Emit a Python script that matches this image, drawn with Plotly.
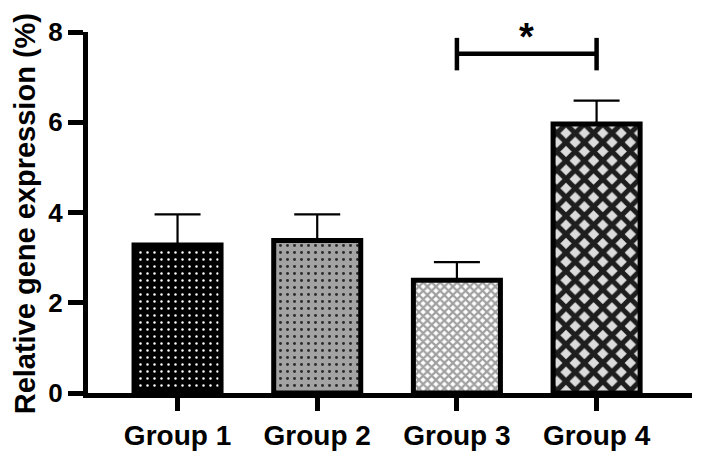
import plotly.graph_objects as go

categories = ["Group 1", "Group 2", "Group 3", "Group 4"]
means = [3.28, 3.38, 2.50, 5.96]
sem_up = [0.68, 0.58, 0.40, 0.52]
bg_colors = ["#000000", "#a3a3a3", "#ffffff", "#dcdcdc"]
fg_colors = ["#ffffff", "#2a2a2a", "#a0a0a0", "#1e1e1e"]
pattern_shapes = [".", ".", "x", "x"]
pattern_sizes = [7, 7, 6, 13]
pattern_solidity = [0.1, 0.14, 0.6, 0.62]
y_ticks = [0, 2, 4, 6, 8]
sig_pair = (2, 3)
sig_label = "*"

FONT = "Liberation Sans, Arial, sans-serif"

fig = go.Figure()
for i, cat in enumerate(categories):
    fig.add_trace(go.Bar(
        x=[i],
        y=[means[i]],
        width=0.623,
        name=cat,
        marker=dict(
            color=bg_colors[i],
            line=dict(color="black", width=5),
            pattern=dict(
                shape=pattern_shapes[i],
                bgcolor=bg_colors[i],
                fgcolor=fg_colors[i],
                size=pattern_sizes[i],
                solidity=pattern_solidity[i],
                fillmode="replace",
            ),
        ),
        error_y=dict(type="data", symmetric=False, array=[sem_up[i]],
                     arrayminus=[0], color="black", thickness=2.2, width=23),
        showlegend=False,
    ))

# significance bracket
top = max(means[i] + sem_up[i] for i in sig_pair)
bar_y = top + 1.04
x0, x1 = sig_pair
fig.add_shape(type="line", x0=x0, x1=x1, y0=bar_y, y1=bar_y,
              xref="x", yref="y", line=dict(color="black", width=4.5))
for xx in sig_pair:
    fig.add_shape(type="line", x0=xx, x1=xx, y0=bar_y - 0.37, y1=bar_y + 0.35,
                  xref="x", yref="y", line=dict(color="black", width=4.5))
fig.add_annotation(x=(x0 + x1) / 2, y=bar_y + 0.37, xref="x", yref="y",
                   text="<b>" + sig_label + "</b>", showarrow=False,
                   font=dict(family=FONT, size=38, color="black"),
                   yanchor="middle")

fig.add_annotation(text="<b>Relative gene expression (%)</b>", textangle=-90,
                   xref="paper", yref="paper", x=0, y=0.495, xshift=-63,
                   showarrow=False, xanchor="center", yanchor="middle",
                   borderpad=0,
                   font=dict(family=FONT, size=29, color="black"))

fig.update_layout(
    width=693, height=452,
    margin=dict(l=80, r=9, t=24, b=60, pad=0),
    plot_bgcolor="white", paper_bgcolor="white",
    font=dict(family=FONT, color="black"),
    barmode="overlay",
)
fig.update_xaxes(
    range=[-0.641, 3.683],
    tickmode="array", tickvals=list(range(len(categories))), ticktext=categories,
    showline=True, linecolor="black", linewidth=5,
    ticks="outside", ticklen=13, tickwidth=5, tickcolor="black",
    tickfont=dict(family=FONT, size=28, color="black", weight="bold"),
    showgrid=False, zeroline=False, fixedrange=True,
)
fig.update_yaxes(
    range=[0, 8],
    tickmode="array", tickvals=y_ticks, ticktext=[str(v) for v in y_ticks],
    showline=True, linecolor="black", linewidth=5,
    ticks="outside", ticklen=15, tickwidth=5, tickcolor="black",
    tickfont=dict(family=FONT, size=26, color="black", weight="bold"),
    showgrid=False, zeroline=False, fixedrange=True,
)

fig.write_html("out.html")
